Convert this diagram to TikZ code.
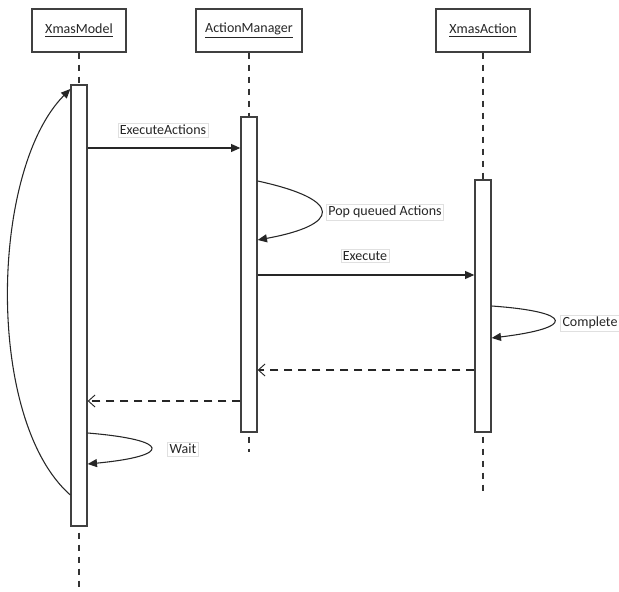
\documentclass[tikz,border=0pt]{standalone}
\usepackage{fontspec}
\setmainfont{Carlito}
\usetikzlibrary{arrows.meta}
\begin{document}
\begin{tikzpicture}[x=0.75pt,y=-0.75pt,
  line width=0.8pt,
  every node/.style={font=\fontsize{10.5}{12}\selectfont, text=black!85},
  header/.style={draw=black!75, line width=1pt, minimum width=70.5pt, minimum height=32.25pt, inner sep=0pt},
  bar/.style={draw=black!75, line width=1pt, fill=white, minimum width=12pt, inner sep=0pt},
  life/.style={draw=black!80, dash pattern=on 4.5pt off 4.5pt, line width=0.8pt},
  msg/.style={draw=black!85, -{Triangle[length=7pt,width=6pt]}},
  ret/.style={draw=black!85, dash pattern=on 6pt off 4.5pt, -{Straight Barb[length=5pt,width=9pt,line width=0.7pt]}},
  lbl/.style={draw=black!12, line width=0.5pt, inner sep=1.5pt, fill=white}
]
\useasboundingbox (0,0) rectangle (619,592);
\fill[white] (0,0) rectangle (619,592);

% participants
\node[header] (xm) at (79,30.5) {\underline{XmasModel}};
\node[header, minimum width=79.5pt] (am) at (249,30.5) {\underline{ActionManager}};
\node[header] (xa) at (483,30.5) {\underline{XmasAction}};

% lifelines
\coordinate (xmend) at (79,592);
\coordinate (amend) at (249,452);
\coordinate (xaend) at (483,492);
\draw[life] (xm.south) -- (xmend);
\draw[life] (am.south) -- (amend);
\draw[life] (xa.south) -- (xaend);

% activation bars
\node[bar, minimum height=330.75pt] (xmbar) at (79,305.5) {};
\node[bar, minimum height=236.25pt] (ambar) at (249,274.5) {};
\node[bar, minimum height=189pt] (xabar) at (483,306) {};

% messages
\draw[msg] (xmbar.east |- 0,148) -- (ambar.west |- 0,148);
\node[lbl] (l1) at (163,130) {ExecuteActions};

\draw[msg] (ambar.east |- 0,181) .. controls (345,200) and (340,225) .. (ambar.east |- 0,240);
\node[lbl] (l2) at (385,212) {Pop queued Actions};

\draw[msg] (ambar.east |- 0,275) -- (xabar.west |- 0,275);
\node[lbl] (l3) at (365,256) {Execute};

\draw[msg] (xabar.east |- 0,306) .. controls (575,312) and (575,328) .. (xabar.east |- 0,338);
\node[lbl] (l4) at (590,323) {Complete};

\draw[ret] (xabar.west |- 0,370) -- (ambar.east |- 0,370);
\draw[ret] (ambar.west |- 0,401) -- (xmbar.east |- 0,401);

\draw[msg] (xmbar.east |- 0,433) .. controls (172,440) and (172,456) .. (xmbar.east |- 0,464);
\node[lbl] (l5) at (183,449) {Wait};

\draw[msg] (xmbar.west |- 0,495) .. controls (-15,420) and (-10,170) .. (xmbar.west |- 0,89);
\end{tikzpicture}
\end{document}
